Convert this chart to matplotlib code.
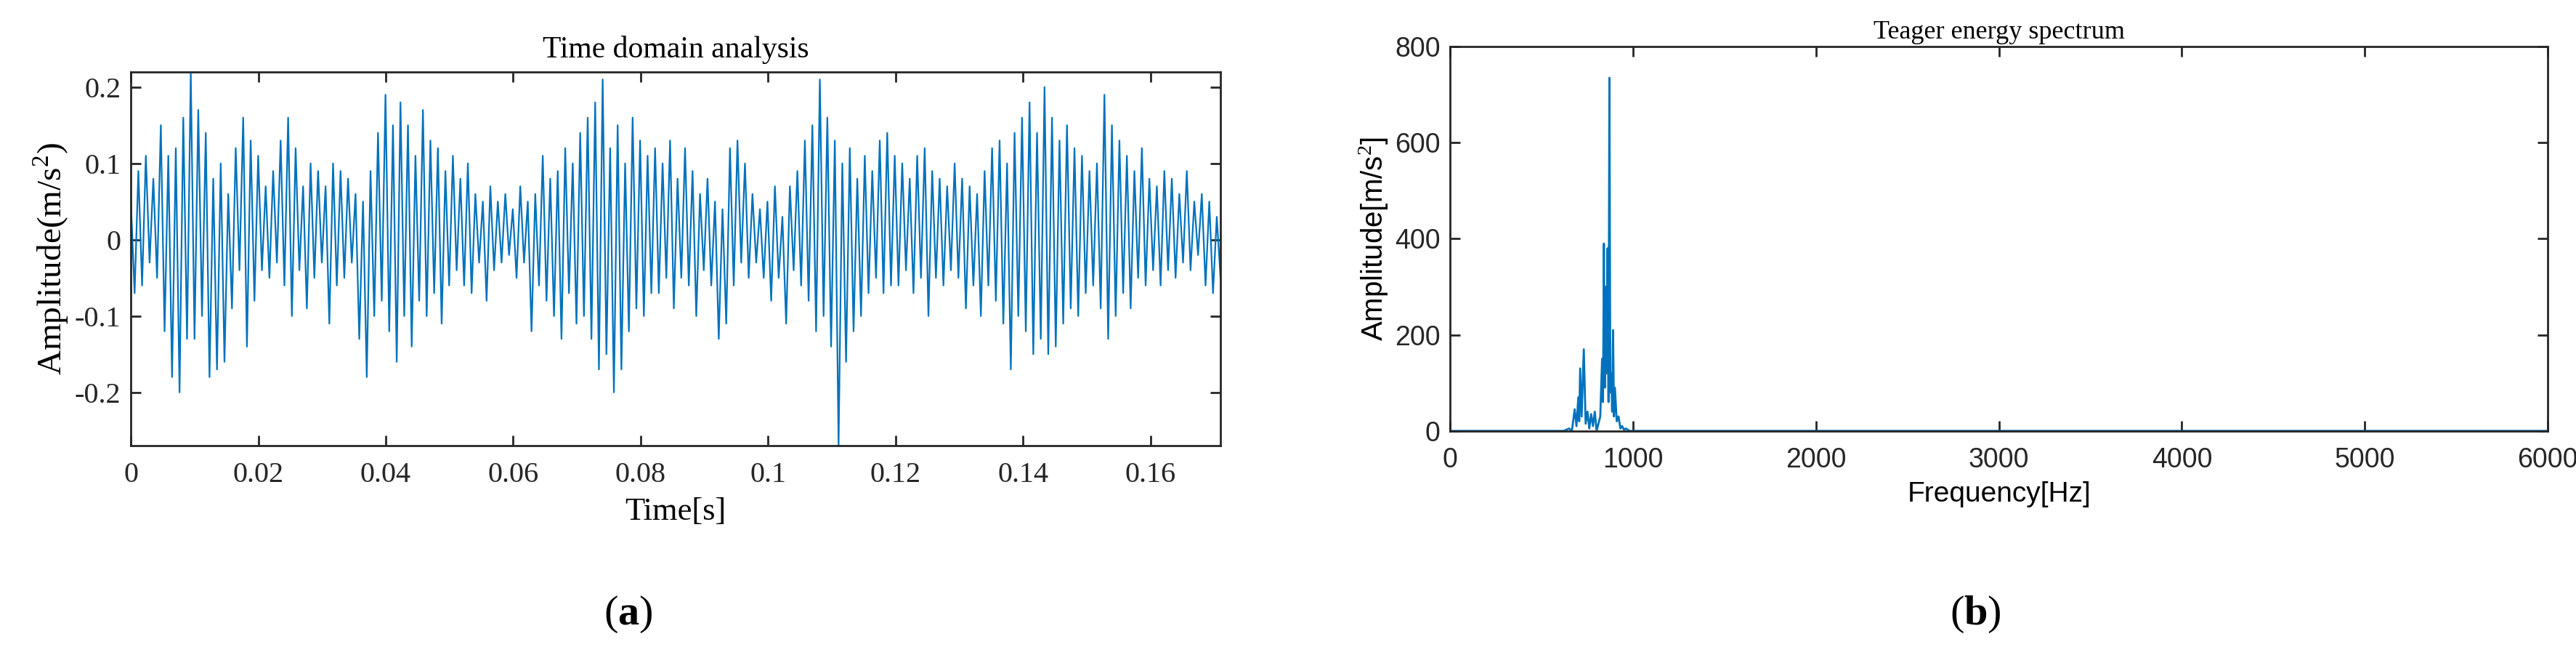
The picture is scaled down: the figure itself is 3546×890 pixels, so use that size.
import numpy as np
import matplotlib.pyplot as plt

plt.rcParams['mathtext.fontset'] = 'custom'
plt.rcParams['mathtext.rm'] = 'Liberation Serif'
plt.rcParams['mathtext.bf'] = 'Liberation Serif:bold'

# time signal: peaks (alternating max/min)
amp_time = [
    0.05,-0.07,0.09,-0.06,0.11,-0.03,0.08,-0.05,0.15,-0.12,0.11,-0.18,0.12,-0.20,0.16,-0.13,0.22,-0.13,0.17,-0.10,
    0.14,-0.18,0.08,-0.17,0.10,-0.16,0.06,-0.09,0.12,-0.04,0.16,-0.14,0.13,-0.08,0.11,-0.04,0.07,-0.05,0.09,-0.03,
    0.13,-0.06,0.16,-0.10,0.12,-0.04,0.07,-0.09,0.10,-0.05,0.09,-0.03,0.07,-0.11,0.10,-0.06,0.09,-0.05,0.08,-0.03,
    0.06,-0.13,0.05,-0.18,0.09,-0.10,0.14,-0.08,0.19,-0.12,0.15,-0.16,0.18,-0.10,0.15,-0.14,0.11,-0.08,0.17,-0.10,
    0.13,-0.07,0.12,-0.11,0.09,-0.06,0.11,-0.04,0.08,-0.06,0.10,-0.07,0.06,-0.03,0.05,-0.08,0.07,-0.04,0.05,-0.03,
    0.06,-0.02,0.04,-0.05,0.07,-0.03,0.05,-0.12,0.06,-0.06,0.11,-0.08,0.08,-0.10,0.09,-0.13,0.12,-0.07,0.10,-0.11,
    0.14,-0.10,0.16,-0.13,0.18,-0.17,0.21,-0.15,0.12,-0.20,0.15,-0.17,0.10,-0.12,0.16,-0.09,0.13,-0.10,0.11,-0.07,
    0.12,-0.07,0.10,-0.05,0.13,-0.09,0.08,-0.05,0.12,-0.06,0.09,-0.10,0.06,-0.04,0.08,-0.06,0.05,-0.13,0.04,-0.11,
    0.12,-0.06,0.13,-0.03,0.10,-0.05,0.06,-0.03,0.04,-0.05,0.05,-0.08,0.07,-0.05,0.03,-0.11,0.07,-0.04,0.09,-0.06,
    0.13,-0.08,0.15,-0.12,0.21,-0.10,0.16,-0.14,0.13,-0.27,0.10,-0.16,0.12,-0.12,0.08,-0.10,0.11,-0.07,0.09,-0.05,
    0.13,-0.07,0.14,-0.06,0.11,-0.06,0.10,-0.04,0.08,-0.07,0.11,-0.05,0.12,-0.10,0.09,-0.05,0.08,-0.06,0.07,-0.04,
    0.10,-0.05,0.08,-0.09,0.07,-0.06,0.06,-0.10,0.09,-0.06,0.12,-0.08,0.13,-0.11,0.10,-0.17,0.14,-0.10,0.16,-0.12,
    0.18,-0.15,0.14,-0.13,0.20,-0.15,0.16,-0.14,0.13,-0.11,0.15,-0.09,0.12,-0.10,0.11,-0.07,0.09,-0.06,0.10,-0.09,
    0.19,-0.13,0.15,-0.10,0.13,-0.07,0.11,-0.09,0.09,-0.05,0.12,-0.06,0.08,-0.04,0.07,-0.06,0.09,-0.04,0.08,-0.05,
    0.06,-0.03,0.09,-0.04,0.05,-0.02,0.06,-0.06,0.05,-0.07,0.03,-0.05,
]
t_end = 0.171

# Teager energy spectrum
freq_hz = [0, 620, 650, 665, 680, 690, 700, 705, 710, 718, 730, 740, 750, 760, 770, 780, 790, 800,
           820, 830, 835, 840, 845, 850, 855, 860, 865, 870, 875, 880, 885, 890, 895, 900, 910,
           920, 930, 940, 950, 960, 980, 1000, 6000]
amp_spec = [0, 0, 5, 0, 45, 10, 70, 20, 130, 30, 170, 15, 40, 5, 35, 10, 40, 0,
            30, 150, 60, 390, 90, 300, 120, 380, 60, 735, 80, 120, 40, 210, 30, 90, 20,
            30, 5, 10, 2, 5, 0, 0, 0]

blue = '#0072BD'
serif = ['Liberation Serif', 'DejaVu Serif']
sans = ['Liberation Sans', 'DejaVu Sans']

fig = plt.figure(figsize=(35.46, 8.9), dpi=100)

# (a) time domain
ax1 = fig.add_axes([0.0508, 0.311, 0.423, 0.578])
t = np.linspace(0, t_end, len(amp_time))
ax1.plot(t, amp_time, color=blue, lw=1.6)
ax1.set_xlim(0, t_end)
ax1.set_ylim(-0.27, 0.22)
ax1.set_xticks([0, 0.02, 0.04, 0.06, 0.08, 0.1, 0.12, 0.14, 0.16])
ax1.set_xticklabels(['0', '0.02', '0.04', '0.06', '0.08', '0.1', '0.12', '0.14', '0.16'])
ax1.set_yticks([-0.2, -0.1, 0, 0.1, 0.2])
ax1.set_yticklabels(['-0.2', '-0.1', '0', '0.1', '0.2'])
ax1.set_title('Time domain analysis', family=serif, fontsize=30, pad=14)
ax1.set_xlabel('Time[s]', family=serif, fontsize=32, labelpad=8)
ax1.set_ylabel('Amplitude(m/s$^2$)', family=serif, fontsize=34, labelpad=4)
for lab in ax1.get_xticklabels() + ax1.get_yticklabels():
    lab.set_family(serif)
    lab.set_fontsize(29)

# (b) spectrum
ax2 = fig.add_axes([0.563, 0.334, 0.426, 0.594])
ax2.plot(freq_hz, amp_spec, color=blue, lw=2)
ax2.set_xlim(0, 6000)
ax2.set_ylim(0, 800)
ax2.set_xticks(range(0, 6001, 1000))
ax2.set_yticks(range(0, 801, 200))
ax2.set_title('Teager energy spectrum', family=serif, fontsize=26, pad=8)
ax2.set_xlabel('Frequency[Hz]', family=sans, fontsize=28, labelpad=8)
ax2.set_ylabel('Amplitude[m/s$^2$]', family=sans, fontsize=29, labelpad=4)
for lab in ax2.get_xticklabels() + ax2.get_yticklabels():
    lab.set_family(sans)
    lab.set_fontsize(27)

for ax in (ax1, ax2):
    ax.tick_params(direction='in', length=10, width=2, top=True, right=True,
                   colors='#262626', pad=10)
    ax.tick_params(axis='x', pad=16)
    for s in ax.spines.values():
        s.set_linewidth(2)
        s.set_color('#262626')

fig.text(0.244, 0.035, '($\\mathbf{a}$)', family=serif, fontsize=42, ha='center')
fig.text(0.767, 0.035, '($\\mathbf{b}$)', family=serif, fontsize=42, ha='center')

fig.savefig('out.png', dpi=100)
